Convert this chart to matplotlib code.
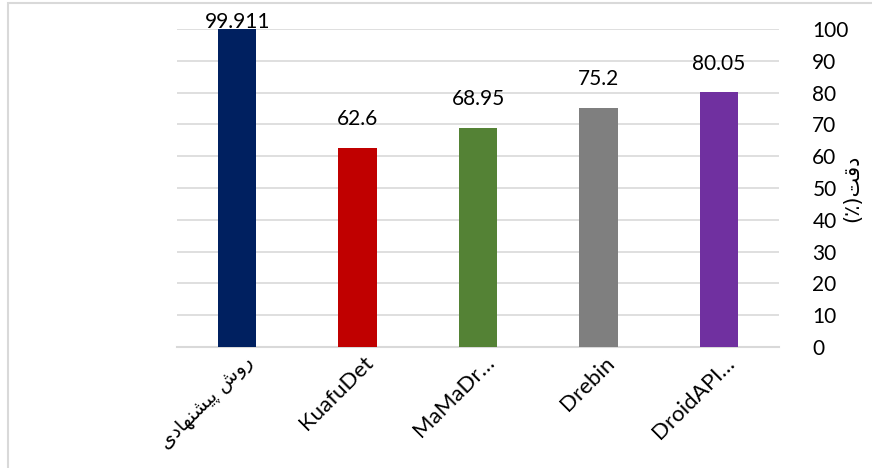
import matplotlib
matplotlib.use("Agg")
import matplotlib.pyplot as plt
import matplotlib.transforms as mtransforms
from matplotlib.patches import Rectangle

# ---- data ----
categories = ["\uFBFC\uFEA9\uFE8E\uFEEC\uFEE8\uFEB8\uFBFF\uFB58 \uFEB5\uFEED\uFEAD",
              "KuafuDet", "MaMaDr\u2026", "Drebin", "DroidAPI\u2026"]
values = [99.911, 62.6, 68.95, 75.2, 80.05]
value_labels = ["99.911", "62.6", "68.95", "75.2", "80.05"]
colors = ["#002060", "#C00000", "#548235", "#7F7F7F", "#7030A0"]
yticks = list(range(0, 101, 10))
ylabel = "(\u066A)\uFE96\uFED7\uFEA9"

plt.rcParams['font.family'] = ['Lato', 'DejaVu Sans']

fig = plt.figure(figsize=(8.72, 4.68), dpi=100)
ax = fig.add_axes([177/872, 1-347/468, 602/872, 318/468])

x = list(range(len(categories)))
ax.bar(x, values, width=0.32, color=colors, zorder=3)
ax.set_xlim(-0.5, len(categories)-0.5)
ax.set_ylim(0, 100)
ax.set_yticks(yticks)
ax.yaxis.tick_right()
ax.yaxis.set_label_position("right")
ax.tick_params(axis='y', length=0, pad=24, labelsize=15)
ax.tick_params(axis='x', length=0, pad=4, labelsize=16)
ax.grid(axis='y', color='#D9D9D9', linewidth=1.2, zorder=0)
for s in ['top', 'left', 'right']:
    ax.spines[s].set_visible(False)
ax.spines['bottom'].set_color('#D9D9D9')
ax.spines['bottom'].set_linewidth(1.5)

ax.set_xticks(x)
ax.set_xticklabels(categories, rotation=45, ha='right')
offset = mtransforms.ScaledTranslation(20/100, 0, fig.dpi_scale_trans)
for i, lab in enumerate(ax.get_xticklabels()):
    lab.set_transform(lab.get_transform() + offset)
    if i == 0:
        lab.set_family(['DejaVu Sans'])
        lab.set_fontsize(14)

for xi, v, t in zip(x, values, value_labels):
    ax.text(xi, min(v + 5.8, 99.0), t, ha='center', va='bottom', fontsize=15,
            zorder=4, clip_on=False)

ax.set_ylabel(ylabel, rotation=90, fontsize=15, family=['DejaVu Sans'],
              va='center', ha='center')
ax.yaxis.set_label_coords((852-177)/602, (347-188)/318)

# chart border
fig.patches.append(Rectangle((8/872, -0.05), 1.2, 465/468 + 0.05,
                             transform=fig.transFigure, fill=False,
                             edgecolor='#D9D9D9', linewidth=1.5))

fig.savefig("out.png", dpi=100)
